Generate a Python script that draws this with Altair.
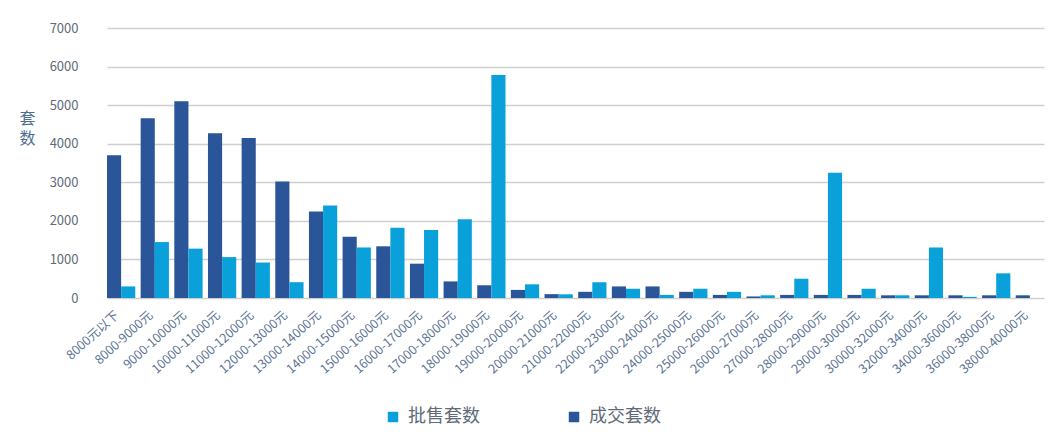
import altair as alt
import pandas as pd

categories = ["8000元以下", "8000-9000元", "9000-10000元", "10000-11000元", "11000-12000元",
              "12000-13000元", "13000-14000元", "14000-15000元", "15000-16000元", "16000-17000元",
              "17000-18000元", "18000-19000元", "19000-20000元", "20000-21000元", "21000-22000元",
              "22000-23000元", "23000-24000元", "24000-25000元", "25000-26000元", "26000-27000元",
              "27000-28000元", "28000-29000元", "29000-30000元", "30000-32000元", "32000-34000元",
              "34000-36000元", "36000-38000元", "38000-40000元"]
deals = [3700, 4660, 5100, 4270, 4150, 3020, 2240, 1590, 1340, 890, 430, 330, 210, 100, 160,
         300, 300, 160, 80, 40, 80, 80, 80, 70, 70, 70, 70, 70]
approved = [300, 1450, 1280, 1060, 920, 410, 2400, 1310, 1820, 1760, 2040, 5780, 355, 95, 410,
            240, 80, 240, 160, 70, 500, 3250, 240, 70, 1310, 30, 640, 0]
series_names = ["批售套数", "成交套数"]

rows = []
for c, d, a in zip(categories, deals, approved):
    rows.append({"区间": c, "系列": series_names[1], "套数": d})
    rows.append({"区间": c, "系列": series_names[0], "套数": a})
df = pd.DataFrame(rows)

FONT = "Noto Sans CJK SC"

chart = alt.Chart(df).mark_bar().encode(
    x=alt.X("区间:N", sort=categories,
            scale=alt.Scale(range=[19, 956], paddingInner=0.16, paddingOuter=0),
            axis=alt.Axis(title=None, labelAngle=-42, labelAlign="right", labelBaseline="middle",
                          labelFontSize=12.5, labelColor="#5b7394", labelFont=FONT,
                          ticks=False, domain=False, labelPadding=15, labelOffset=-4,
                          labelOverlap=False)),
    xOffset=alt.XOffset("系列:N", sort=[series_names[1], series_names[0]],
                        scale=alt.Scale(paddingInner=0, paddingOuter=0)),
    y=alt.Y("套数:Q", scale=alt.Scale(domain=[0, 7000]),
            axis=alt.Axis(values=[0, 1000, 2000, 3000, 4000, 5000, 6000, 7000], format="d",
                          title=["套", "数"], titleAngle=0, titleX=-61, titleY=98,
                          titleFontSize=16, titleFontWeight="normal", titleColor="#4f6f91",
                          titleFont=FONT, titleLineHeight=20,
                          labelFontSize=13, labelColor="#5f6b78", labelFont=FONT,
                          labelPadding=10, ticks=False, domain=False,
                          gridColor="#cfcfcf", gridWidth=1.5)),
    color=alt.Color("系列:N",
                    scale=alt.Scale(domain=series_names, range=["#0aa0da", "#2a5599"]),
                    legend=alt.Legend(title=None, orient="none", direction="horizontal",
                                      legendX=296, legendY=380, symbolType="square",
                                      symbolSize=110, symbolStrokeWidth=0,
                                      labelFontSize=18, labelColor="#5f6b78", labelFont=FONT,
                                      columnPadding=85, labelOffset=6)),
).properties(
    width=940, height=270,
    padding={"top": 14, "left": 10, "right": 5, "bottom": 5},
).configure_view(stroke=None)

chart.save("out.html", embed_options={"renderer": "svg", "actions": False})
